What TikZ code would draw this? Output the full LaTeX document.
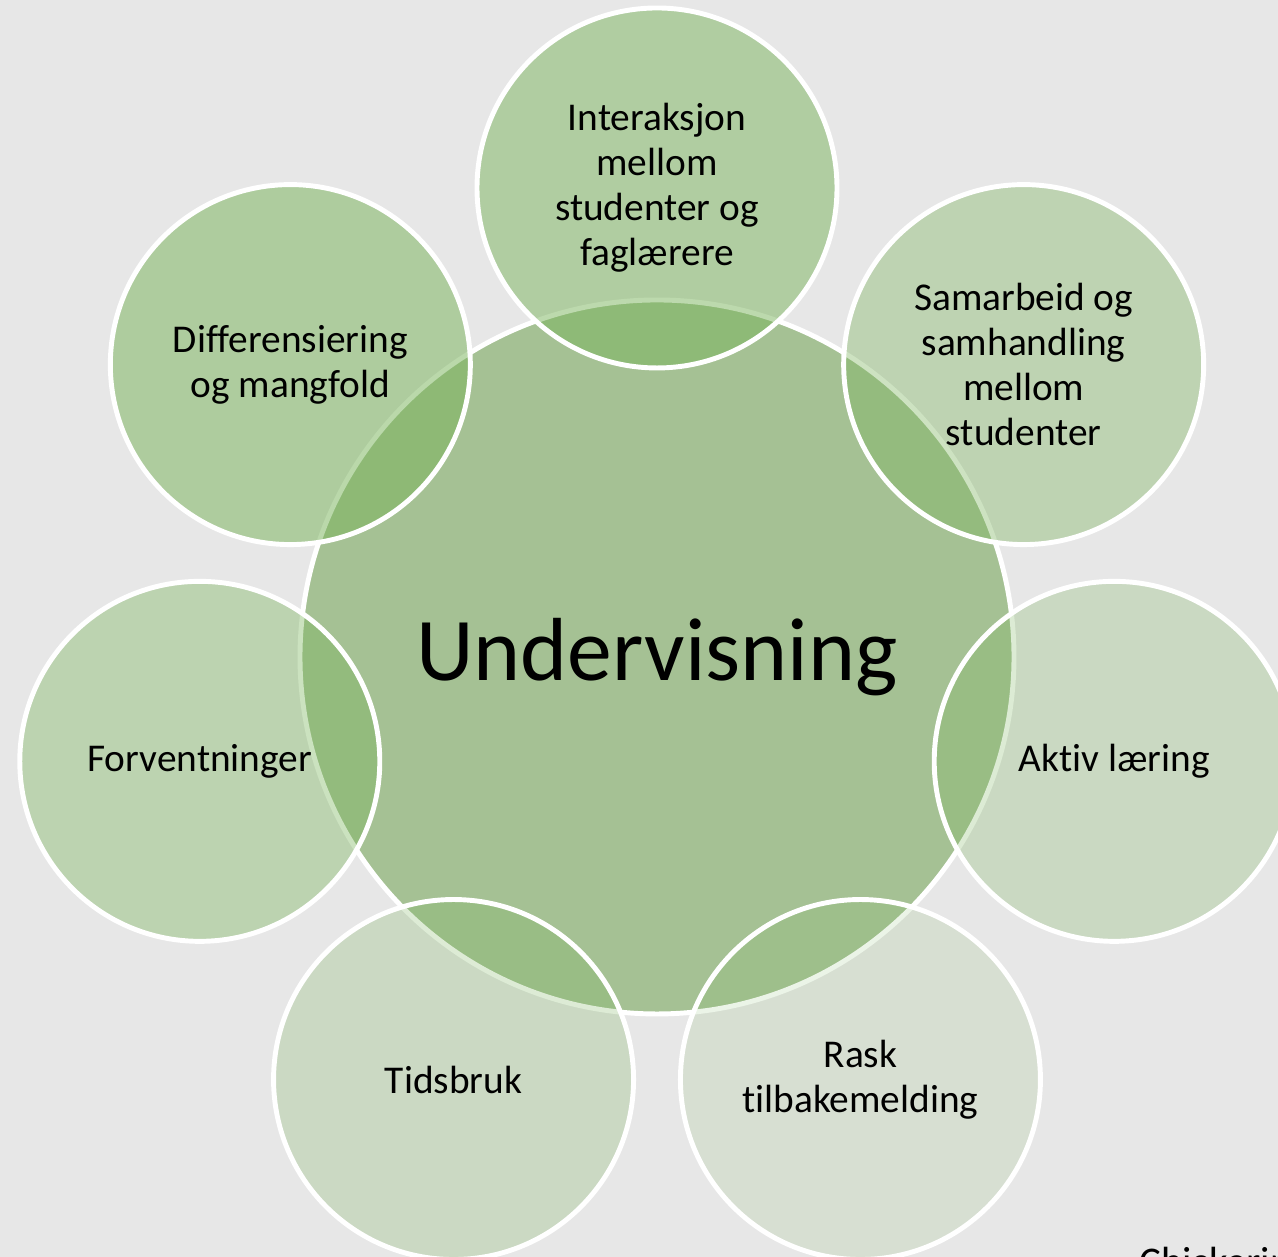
\documentclass[tikz,border=0pt]{standalone}
\usepackage{fontspec}
\setmainfont{Carlito}[Ligatures={NoCommon}]
\definecolor{bggray}{HTML}{E7E7E7}
\definecolor{hubgreen}{HTML}{A5C194}
\definecolor{spokegreen}{HTML}{78B359}

\begin{document}
\begin{tikzpicture}[
		hub/.style={circle, draw=white, line width=1.4pt, fill=hubgreen, minimum size=7.14cm, inner sep=0pt, font=\fontsize{25.5}{30}\selectfont},
		spoke/.style={circle, draw=white, line width=1.4pt, fill=spokegreen, text opacity=1, minimum size=3.6cm, inner sep=0pt, align=center, font=\fontsize{11.2}{12.8}\selectfont}]
		\useasboundingbox (0,0) rectangle (12.78,12.57);
		\fill [bggray](0,0) rectangle (12.78,12.57);
		\node [hub](Undervisning) at (6.57,6.00) {Undervisning};
		\foreach \name/\ang/\op/\txt in {
			Interaksjon/90/0.49/{Interaksjon\\mellom\\studenter og\\faglærere},
			Samarbeid/38.57/0.37/{Samarbeid og\\samhandling\\mellom\\studenter},
			Aktiv/-12.86/0.26/{Aktiv læring},
			Rask/-64.29/0.14/{Rask\\tilbakemelding},
			Tidsbruk/-115.71/0.25/{Tidsbruk},
			Forventninger/-167.14/0.38/{Forventninger},
			Differensiering/141.43/0.51/{Differensiering\\og mangfold}}
			\node [spoke, fill opacity=\op](\name) at ([shift={(\ang:4.69)}]Undervisning.center) {\txt};
		\node [anchor=base west, font=\fontsize{11.6}{13}\selectfont](Kilde) at (11.27,-0.19) {Chickering};
	\end{tikzpicture}
\end{document}
